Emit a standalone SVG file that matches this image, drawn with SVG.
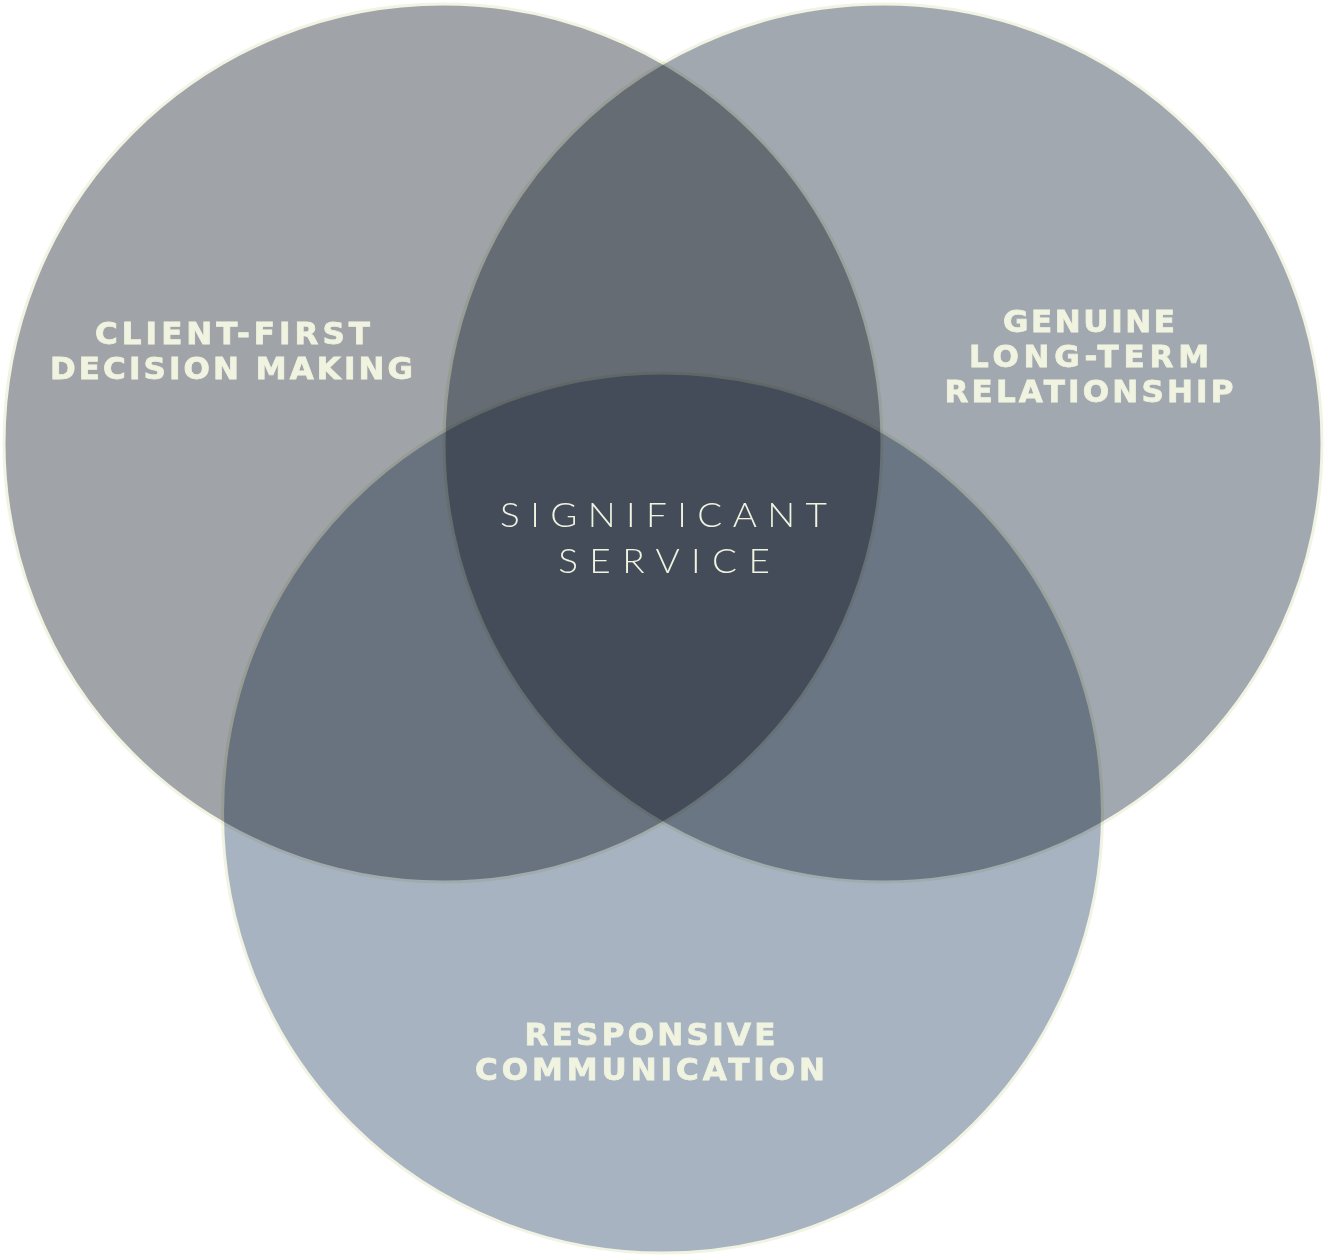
<svg xmlns="http://www.w3.org/2000/svg" width="1326" height="1257" viewBox="0 0 1326 1257">
  <style>
    .c { stroke: #f1f4e3; stroke-width: 3; mix-blend-mode: multiply; }
    .lbl { font-family: "DejaVu Sans", "Liberation Sans", sans-serif; font-weight: bold; font-size: 31px; fill: #eff3df; stroke: #eff3df; stroke-width: 0.8; text-anchor: middle; }
    .ctr { font-family: Lato, "Noto Sans", sans-serif; font-weight: 300; font-size: 33px; fill: #eff3df; text-anchor: middle; }
  </style>
  <rect width="1326" height="1257" fill="#ffffff"/>
  <g id="circle-left">
    <circle class="c" cx="443" cy="443" r="439" fill="#a0a4a8"/>
  </g>
  <g id="circle-right">
    <circle class="c" cx="883" cy="443" r="439" fill="#a2a8b0"/>
  </g>
  <g id="circle-bottom">
    <circle class="c" cx="662.5" cy="813" r="440" fill="#a8b3c1"/>
  </g>
  <g id="connectors"></g>
  <g id="label-left">
    <text class="lbl" x="232.5" y="344" textLength="275" lengthAdjust="spacing">CLIENT-FIRST</text>
    <text class="lbl" x="231.5" y="379" textLength="363" lengthAdjust="spacing">DECISION MAKING</text>
  </g>
  <g id="label-right">
    <text class="lbl" x="1089" y="332" textLength="172" lengthAdjust="spacing">GENUINE</text>
    <text class="lbl" x="1089" y="367" textLength="240" lengthAdjust="spacing">LONG-TERM</text>
    <text class="lbl" x="1089" y="402" textLength="289" lengthAdjust="spacing">RELATIONSHIP</text>
  </g>
  <g id="label-bottom">
    <text class="lbl" x="650" y="1045" textLength="251" lengthAdjust="spacing">RESPONSIVE</text>
    <text class="lbl" x="650" y="1080" textLength="350" lengthAdjust="spacing">COMMUNICATION</text>
  </g>
  <g id="label-center">
    <text class="ctr" transform="translate(663.5 527) scale(1.12 1)" x="0" y="0" textLength="292" lengthAdjust="spacing">SIGNIFICANT</text>
    <text class="ctr" transform="translate(664 573) scale(1.12 1)" x="0" y="0" textLength="189" lengthAdjust="spacing">SERVICE</text>
  </g>
</svg>
